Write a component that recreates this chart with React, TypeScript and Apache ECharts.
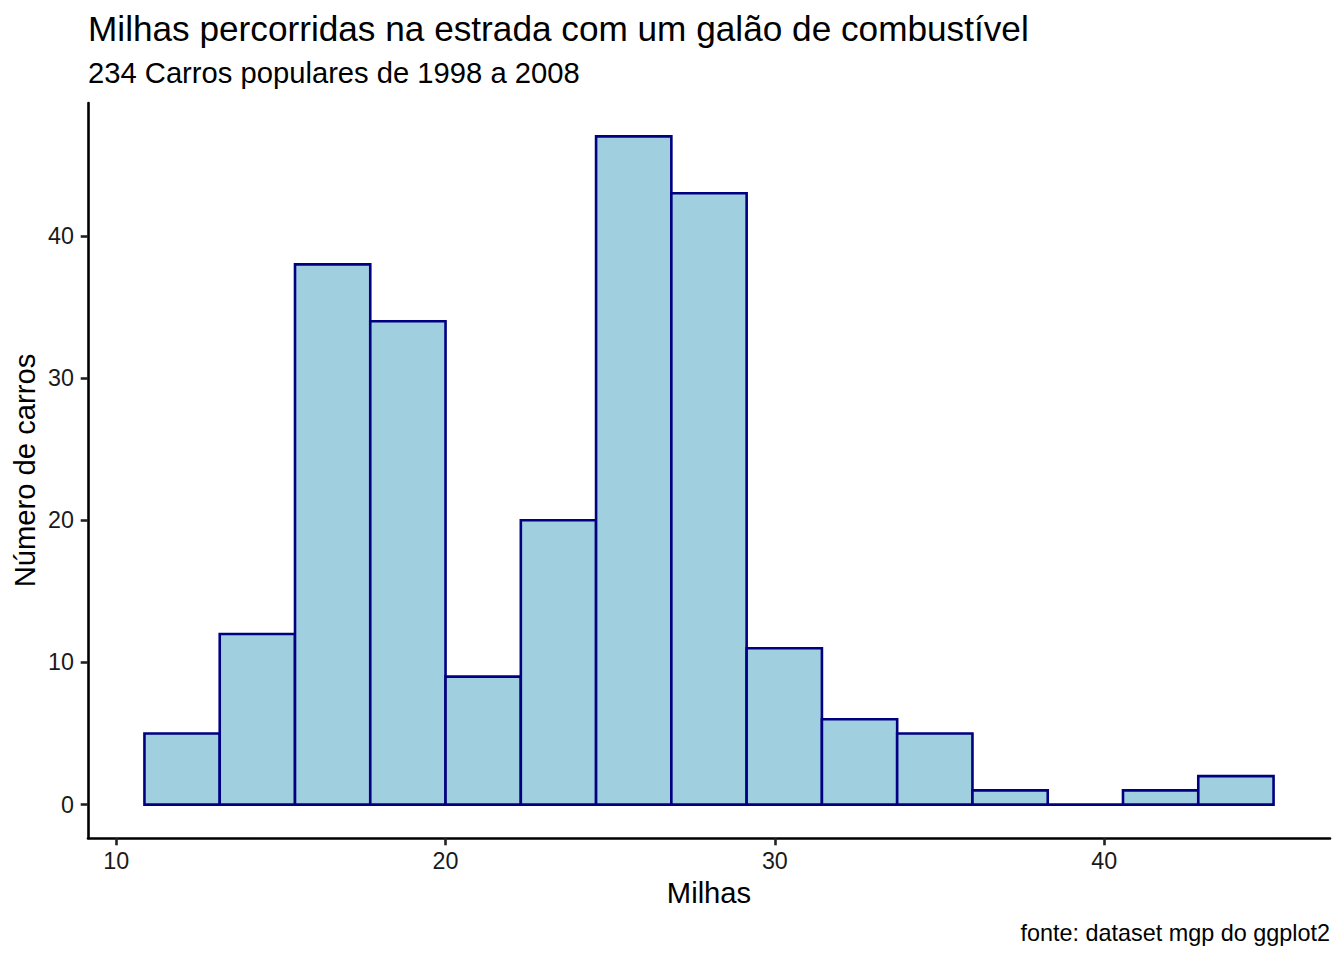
import React, { useEffect, useRef } from "react";
import * as echarts from "echarts";

// ---- data (highway miles per gallon histogram, 15 bins) ----
const binEdges = [
  10.857, 13.143, 15.429, 17.714, 20.0, 22.286, 24.571, 26.857, 29.143,
  31.429, 33.714, 36.0, 38.286, 40.571, 42.857, 45.143,
];
const counts = [5, 12, 38, 34, 9, 20, 47, 43, 11, 6, 5, 1, 0, 1, 2];
const xTicks = [10, 20, 30, 40];
const yTicks = [0, 10, 20, 30, 40];

const titleText = "Milhas percorridas na estrada com um galão de combustível";
const subtitleText = "234 Carros populares de 1998 a 2008";
const xTitle = "Milhas";
const yTitle = "Número de carros";
const captionText = "fonte: dataset mgp do ggplot2";

const FONT = "'Liberation Sans', Arial, Helvetica, sans-serif";

export default function App() {
  const ref = useRef<HTMLDivElement>(null);

  useEffect(() => {
    document.body.style.margin = "0";
    if (!ref.current) return;
    const chart = echarts.init(ref.current, undefined, { renderer: "svg" });

    const data = counts.map((c, i) => [binEdges[i], binEdges[i + 1], c]);

    const option: any = {
      animation: false,
      backgroundColor: "#FFFFFF",
      grid: { left: 88, right: 14, top: 103, bottom: 122, containLabel: false },
      xAxis: {
        type: "value",
        min: 9.143,
        max: 46.857,
        axisLine: { show: true, onZero: false, lineStyle: { color: "#000000", width: 2.6 } },
        axisTick: {
          show: true,
          customValues: xTicks,
          length: 7.3,
          lineStyle: { color: "#222222", width: 2.6 },
        },
        axisLabel: {
          show: true,
          customValues: xTicks,
          margin: 11,
          fontSize: 23.3,
          fontFamily: FONT,
          color: "#1A1A1A",
        },
        splitLine: { show: false },
      },
      yAxis: {
        type: "value",
        min: -2.35,
        max: 49.35,
        axisLine: { show: true, onZero: false, lineStyle: { color: "#000000", width: 2.6 } },
        axisTick: {
          show: true,
          customValues: yTicks,
          length: 7.3,
          lineStyle: { color: "#222222", width: 2.6 },
        },
        axisLabel: {
          show: true,
          customValues: yTicks,
          margin: 14,
          fontSize: 23.3,
          fontFamily: FONT,
          color: "#1A1A1A",
        },
        splitLine: { show: false },
      },
      series: [
        {
          type: "custom",
          data,
          clip: false,
          renderItem: (params: any, api: any) => {
            const x0 = api.value(0);
            const x1 = api.value(1);
            const c = api.value(2);
            const p0 = api.coord([x0, 0]);
            const p1 = api.coord([x1, c]);
            return {
              type: "polygon",
              shape: {
                points: [
                  [p0[0], p0[1]],
                  [p1[0], p0[1]],
                  [p1[0], p1[1]],
                  [p0[0], p1[1]],
                ],
              },
              style: {
                fill: "#A0CFE0",
                stroke: "#000080",
                lineWidth: 2.6,
                lineJoin: "miter",
              },
            };
          },
        },
      ],
      graphic: [
        {
          type: "text",
          x: 88,
          y: 28,
          style: {
            text: titleText,
            font: `35.2px ${FONT}`,
            fill: "#000000",
            textAlign: "left",
            textVerticalAlign: "middle",
          },
        },
        {
          type: "text",
          x: 88,
          y: 73,
          style: {
            text: subtitleText,
            font: `29.2px ${FONT}`,
            fill: "#000000",
            textAlign: "left",
            textVerticalAlign: "middle",
          },
        },
        {
          type: "text",
          x: 709,
          y: 893,
          style: {
            text: xTitle,
            font: `29.2px ${FONT}`,
            fill: "#000000",
            textAlign: "center",
            textVerticalAlign: "middle",
          },
        },
        {
          type: "text",
          x: 25,
          y: 470.5,
          rotation: Math.PI / 2,
          style: {
            text: yTitle,
            font: `29.2px ${FONT}`,
            fill: "#000000",
            textAlign: "center",
            textVerticalAlign: "middle",
          },
        },
        {
          type: "text",
          x: 1330,
          y: 933,
          style: {
            text: captionText,
            font: `23.4px ${FONT}`,
            fill: "#000000",
            textAlign: "right",
            textVerticalAlign: "middle",
          },
        },
      ],
    };

    chart.setOption(option);
    return () => chart.dispose();
  }, []);

  return (
    <div
      ref={ref}
      style={{ position: "fixed", left: 0, top: 0, width: 1344, height: 960 }}
    />
  );
}
